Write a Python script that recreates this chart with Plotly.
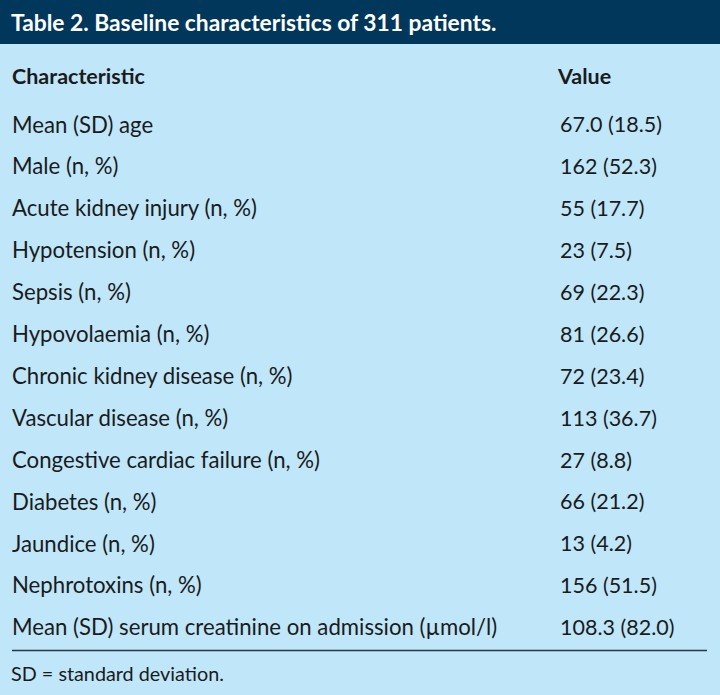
import plotly.graph_objects as go

title = "Table 2. Baseline characteristics of 311 patients."
col_headers = ["Characteristic", "Value"]
characteristics = [
    "Mean (SD) age",
    "Male (n, %)",
    "Acute kidney injury (n, %)",
    "Hypotension (n, %)",
    "Sepsis (n, %)",
    "Hypovolaemia (n, %)",
    "Chronic kidney disease (n, %)",
    "Vascular disease (n, %)",
    "Congestive cardiac failure (n, %)",
    "Diabetes (n, %)",
    "Jaundice (n, %)",
    "Nephrotoxins (n, %)",
    "Mean (SD) serum creatinine on admission (\u00b5mol/l)",
]
values = [
    "67.0 (18.5)",
    "162 (52.3)",
    "55 (17.7)",
    "23 (7.5)",
    "69 (22.3)",
    "81 (26.6)",
    "72 (23.4)",
    "113 (36.7)",
    "27 (8.8)",
    "66 (21.2)",
    "13 (4.2)",
    "156 (51.5)",
    "108.3 (82.0)",
]
footnote = "SD = standard deviation."

W, H = 720, 695
NAVY = "#01375A"
BG = "#BFE6F9"
TXT = "#1b1b1b"
FONT = "Lato"

x_left, x_val = 12, 560
y_head = 78.5
y0, dy = 127, 41.9
row_y = [y0 + i * dy for i in range(len(characteristics))]

fig = go.Figure()
fig.add_trace(go.Scatter(
    x=[x_left] * len(characteristics), y=row_y, text=characteristics,
    mode="text", textposition="middle right",
    textfont=dict(family=FONT, size=22.2, color=TXT), hoverinfo="skip"))
fig.add_trace(go.Scatter(
    x=[x_val] * len(values), y=row_y, text=values,
    mode="text", textposition="middle right",
    textfont=dict(family=FONT, size=21.5, color=TXT), hoverinfo="skip"))
fig.add_trace(go.Scatter(
    x=[x_left, x_val - 2], y=[y_head, y_head],
    text=["<b>%s</b>" % c for c in col_headers],
    mode="text", textposition="middle right",
    textfont=dict(family=FONT, size=21.5, color=TXT), hoverinfo="skip"))

fig.add_shape(type="rect", x0=0, x1=W, y0=0, y1=44, fillcolor=NAVY,
              line_width=0, layer="below")
fig.add_shape(type="line", x0=12, x1=707, y0=650.5, y1=650.5,
              line=dict(color="#25384a", width=1.6))
fig.add_annotation(x=x_left - 3, y=22, text="<b>%s</b>" % title, showarrow=False,
                   xanchor="left", yanchor="middle",
                   font=dict(family=FONT, size=22.8, color="white"))
fig.add_annotation(x=x_left - 3, y=673, text=footnote, showarrow=False,
                   xanchor="left", yanchor="middle",
                   font=dict(family=FONT, size=19.8, color=TXT))

fig.update_layout(
    width=W, height=H, margin=dict(l=0, r=0, t=0, b=0),
    paper_bgcolor=BG, plot_bgcolor=BG, showlegend=False,
    xaxis=dict(range=[0, W], visible=False, fixedrange=True),
    yaxis=dict(range=[H, 0], visible=False, fixedrange=True),
)
fig.write_html("out.html", config={"displayModeBar": False},
               post_script="document.body.style.margin='0';")
